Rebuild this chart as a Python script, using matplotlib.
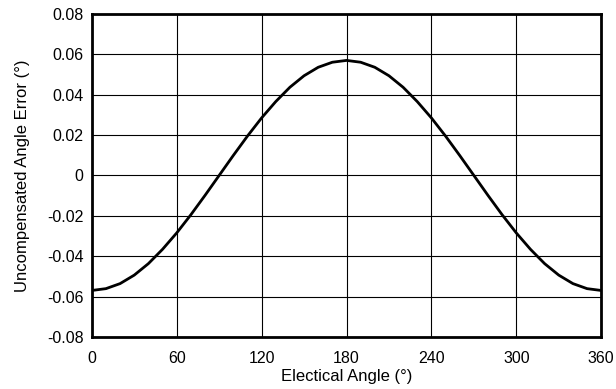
import matplotlib
matplotlib.use('Agg')
from matplotlib import pyplot as plt

plt.rcParams['font.family'] = ['Liberation Sans', 'DejaVu Sans']

# electrical angle (deg) and angle error (deg)
angulo = [0, 10, 20, 30, 40, 50, 60, 70, 80, 90, 100, 110, 120, 130, 140, 150, 160, 170, 180,
          190, 200, 210, 220, 230, 240, 250, 260, 270, 280, 290, 300, 310, 320, 330, 340, 350, 360]
erro = [-0.0570, -0.0561, -0.0536, -0.0494, -0.0437, -0.0366, -0.0285, -0.0195, -0.0099, 0.0,
        0.0099, 0.0195, 0.0285, 0.0366, 0.0437, 0.0494, 0.0536, 0.0561, 0.0570,
        0.0561, 0.0536, 0.0494, 0.0437, 0.0366, 0.0285, 0.0195, 0.0099, 0.0,
        -0.0099, -0.0195, -0.0285, -0.0366, -0.0437, -0.0494, -0.0536, -0.0561, -0.0570]

xticks = [0, 60, 120, 180, 240, 300, 360]
yticks = [-0.08, -0.06, -0.04, -0.02, 0, 0.02, 0.04, 0.06, 0.08]
ylabels = ['-0.08', '-0.06', '-0.04', '-0.02', '0', '0.02', '0.04', '0.06', '0.08']

fig = plt.figure(figsize=(6.16, 3.89), dpi=100)
ax = fig.add_axes([0.149, 0.134, 0.827, 0.830])

ax.plot(angulo, erro, color='black', lw=2)

ax.set_xlim(0, 360)
ax.set_ylim(-0.08, 0.08)
ax.set_xticks(xticks)
ax.set_yticks(yticks)
ax.set_yticklabels(ylabels)
ax.grid(True, color='black', lw=0.8)
ax.tick_params(axis='y', length=0, labelsize=11.5, pad=6)
ax.tick_params(axis='x', length=0, labelsize=11.5, pad=10)
for s in ax.spines.values():
    s.set_linewidth(2)

ax.set_xlabel('Electical Angle (°)', fontsize=12, labelpad=2)
ax.set_ylabel('Uncompensated Angle Error (°)', fontsize=12, labelpad=12)

fig.savefig('out.png', dpi=100)
